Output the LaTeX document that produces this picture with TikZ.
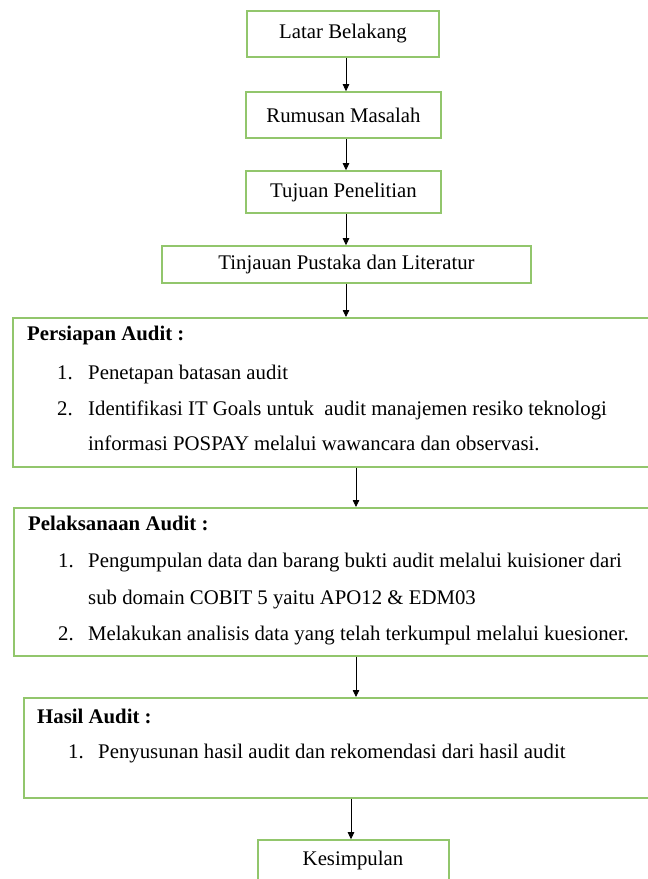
\documentclass[tikz,border=0pt]{standalone}
\usepackage{fontspec}
\setmainfont{Liberation Serif}
\usetikzlibrary{arrows.meta}
\definecolor{boxgreen}{RGB}{146,198,108}
\tikzset{
  box/.style={draw=boxgreen, line width=1.6pt, fill=white, inner sep=0pt, font=\fontsize{20.8}{25}\selectfont},
  txt/.style={anchor=west, inner sep=0pt, text height=14pt, text depth=4pt, font=\fontsize{20.8}{25}\selectfont},
  hd/.style={txt, font=\fontsize{20.8}{25}\selectfont\bfseries},
  arr/.style={draw=black, line width=0.8pt, -{Triangle[length=7pt,width=6.5pt]}}
}
\begin{document}
\begin{tikzpicture}[x=1pt,y=-1pt]
\clip (0,0) rectangle (648,879);
\fill[white] (0,0) rectangle (648,879);
% small boxes
\node[box, minimum width=192, minimum height=46] (b1) at (343,34) {Latar Belakang};
\node[box, minimum width=195, minimum height=46] (b2) at (343.5,115) {Rumusan Masalah};
\node[box, minimum width=195, minimum height=42] (b3) at (343.5,192) {Tujuan Penelitian};
\node[box, minimum width=369, minimum height=37] (b4) at (346.5,264.5) {Tinjauan Pustaka dan Literatur};
% big boxes
\node[box, anchor=north west, minimum width=648, minimum height=149] (persiapan) at (12,317) {};
\node[box, anchor=north west, minimum width=647, minimum height=148] (pelaksanaan) at (13,507) {};
\node[box, anchor=north west, minimum width=637, minimum height=100] (hasil) at (23,697) {};
\node[box, minimum width=191, minimum height=50] (b8) at (353.5,865) {};
\node[txt, anchor=center] (kes) at (353,860) {Kesimpulan};
% persiapan text
\node[hd] (p0) at (27,335) {Persiapan Audit :};
\node[txt] (p1n) at (57,374) {1.};
\node[txt] (p1) at (88,374) {Penetapan batasan audit};
\node[txt] (p2n) at (57,410) {2.};
\node[txt] (p2) at (88,410) {Identifikasi IT Goals untuk\ \ audit manajemen resiko teknologi};
\node[txt] (p3) at (88,445) {informasi POSPAY melalui wawancara dan observasi.};
% pelaksanaan text
\node[hd] (q0) at (28,525) {Pelaksanaan Audit :};
\node[txt] (q1n) at (58,562) {1.};
\node[txt] (q1) at (88,562) {Pengumpulan data dan barang bukti audit melalui kuisioner dari};
\node[txt] (q2) at (88,599) {sub domain COBIT 5 yaitu APO12 \& EDM03};
\node[txt] (q3n) at (58,635) {2.};
\node[txt] (q3) at (88,635) {Melakukan analisis data yang telah terkumpul melalui kuesioner.};
% hasil text
\node[hd] (h0) at (37,718) {Hasil Audit :};
\node[txt] (h1n) at (68,753) {1.};
\node[txt] (h1) at (98,753) {Penyusunan hasil audit dan rekomendasi dari hasil audit};
% arrow x coordinates
\coordinate (xa) at (346,0);
\coordinate (xb) at (356,0);
\coordinate (xc) at (351,0);
\draw[arr] (b1.south -| xa) -- (b2.north -| xa);
\draw[arr] (b2.south -| xa) -- (b3.north -| xa);
\draw[arr] (b3.south -| xa) -- (b4.north -| xa);
\draw[arr] (b4.south -| xa) -- (persiapan.north -| xa);
\draw[arr] (persiapan.south -| xb) -- (pelaksanaan.north -| xb);
\draw[arr] (pelaksanaan.south -| xb) -- (hasil.north -| xb);
\draw[arr] (hasil.south -| xc) -- (b8.north -| xc);
\end{tikzpicture}
\end{document}
